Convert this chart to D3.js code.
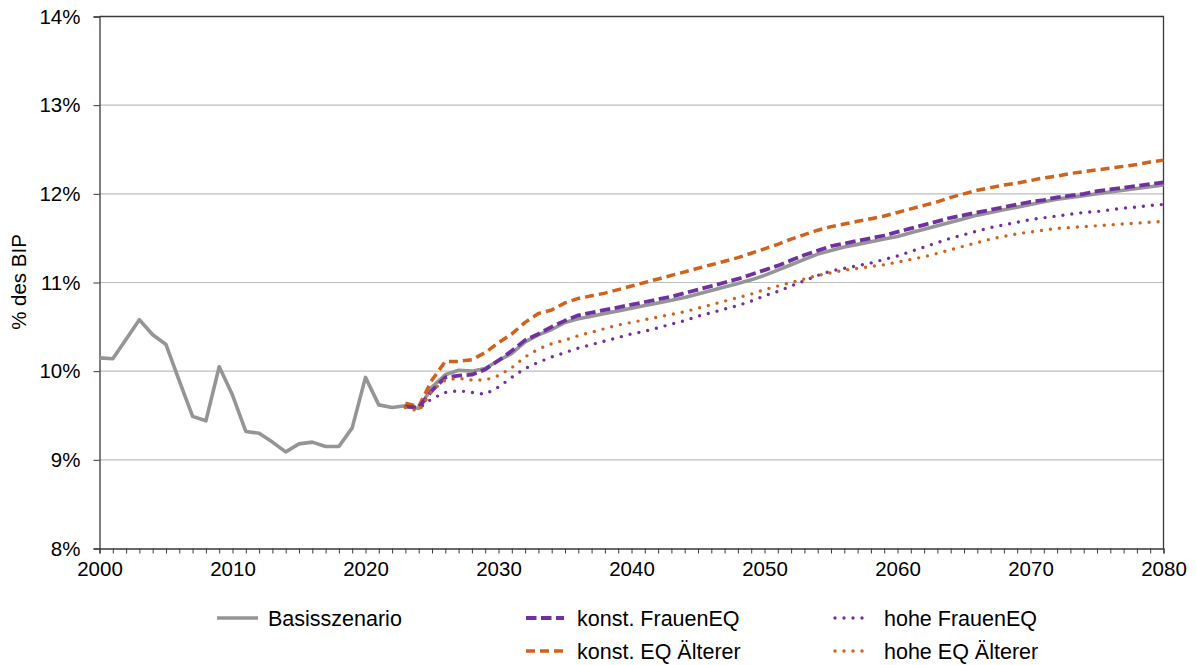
<!DOCTYPE html>
<html><head><meta charset="utf-8">
<script src="https://cdn.jsdelivr.net/npm/d3@7"></script>
<style>
html,body{margin:0;padding:0;background:#fff;}
svg text{font-family:"Liberation Sans",Arial,sans-serif;fill:#000;}
</style></head>
<body><svg id="c" width="1197" height="665"></svg>
<script>
// ---- data ----
const yearsHist = d3.range(2000, 2081);
const basis = [10.15,10.14,10.36,10.58,10.41,10.30,9.89,9.49,9.44,10.05,
  9.73,9.32,9.30,9.20,9.09,9.18,9.20,9.15,9.15,9.36,
  9.93,9.62,9.59,9.61,9.58,9.82,9.96,10.01,10.00,10.03,
  10.12,10.20,10.33,10.41,10.47,10.55,10.59,10.62,10.65,10.68,
  10.71,10.74,10.77,10.80,10.83,10.87,10.91,10.95,10.99,11.03,
  11.08,11.14,11.20,11.26,11.32,11.36,11.40,11.43,11.46,11.49,
  11.52,11.56,11.60,11.64,11.68,11.72,11.76,11.79,11.82,11.85,
  11.88,11.91,11.94,11.96,11.98,12.00,12.02,12.04,12.06,12.08,12.10];
const yearsScen = d3.range(2023, 2081);
const konstFrauen = [9.60,9.59,9.78,9.93,9.95,9.96,10.02,
  10.12,10.23,10.35,10.42,10.50,10.57,10.63,10.66,10.69,10.72,
  10.75,10.78,10.81,10.84,10.88,10.92,10.96,11.00,11.04,11.09,
  11.14,11.19,11.25,11.31,11.36,11.41,11.44,11.47,11.50,11.53,
  11.57,11.61,11.65,11.69,11.73,11.76,11.79,11.82,11.85,11.88,
  11.91,11.93,11.96,11.98,12.00,12.03,12.05,12.07,12.09,12.11,12.13];
const konstAelter = [9.64,9.60,9.90,10.11,10.11,10.13,10.21,
  10.32,10.42,10.55,10.65,10.69,10.77,10.82,10.85,10.88,10.92,
  10.96,11.00,11.04,11.08,11.12,11.16,11.20,11.24,11.28,11.33,
  11.38,11.43,11.49,11.54,11.59,11.63,11.66,11.69,11.72,11.75,
  11.79,11.83,11.87,11.91,11.96,12.00,12.04,12.07,12.10,12.12,
  12.15,12.18,12.20,12.23,12.25,12.27,12.29,12.31,12.33,12.36,12.38];
const hoheFrauen = [9.60,9.58,9.69,9.76,9.78,9.76,9.74,
  9.82,9.93,10.03,10.10,10.16,10.21,10.26,10.30,10.34,10.38,
  10.42,10.45,10.49,10.53,10.57,10.62,10.66,10.70,10.74,10.79,
  10.85,10.90,10.96,11.02,11.08,11.13,11.16,11.19,11.22,11.26,
  11.30,11.35,11.40,11.45,11.50,11.54,11.58,11.62,11.65,11.68,
  11.71,11.73,11.75,11.77,11.79,11.80,11.82,11.84,11.85,11.87,11.88];
const hoheAelter = [9.59,9.55,9.78,9.90,9.92,9.90,9.90,
  9.95,10.04,10.16,10.25,10.31,10.35,10.40,10.44,10.48,10.52,
  10.55,10.58,10.61,10.64,10.67,10.71,10.75,10.79,10.83,10.87,
  10.92,10.96,11.00,11.04,11.08,11.11,11.14,11.16,11.18,11.20,
  11.23,11.26,11.29,11.33,11.37,11.41,11.45,11.49,11.52,11.55,
  11.57,11.59,11.61,11.62,11.63,11.64,11.65,11.66,11.67,11.68,11.69];
const yTicks = [8,9,10,11,12,13,14];
const xTicks = [2000,2010,2020,2030,2040,2050,2060,2070,2080];
const seriesNames = ["Basisszenario","konst. FrauenEQ","hohe FrauenEQ","konst. EQ Älterer","hohe EQ Älterer"];

// ---- styles ----
const styles = {
  "Basisszenario":      {color:"#959595", w:3.6, dash:null, cap:"butt"},
  "konst. FrauenEQ":    {color:"#7030A0", w:3.8, dash:"10.5,4.5", cap:"butt"},
  "konst. EQ Älterer":  {color:"#D0621C", w:3.5, dash:"9,5", cap:"butt"},
  "hohe FrauenEQ":      {color:"#7030A0", w:3.4, dash:"0,9", cap:"round"},
  "hohe EQ Älterer":    {color:"#D0621C", w:3.4, dash:"0,9", cap:"round"}
};
const seriesData = {
  "Basisszenario": yearsHist.map((y,i)=>[y,basis[i]]),
  "konst. FrauenEQ": yearsScen.map((y,i)=>[y,konstFrauen[i]]),
  "konst. EQ Älterer": yearsScen.map((y,i)=>[y,konstAelter[i]]),
  "hohe FrauenEQ": yearsScen.map((y,i)=>[y,hoheFrauen[i]]),
  "hohe EQ Älterer": yearsScen.map((y,i)=>[y,hoheAelter[i]])
};

const svg = d3.select("#c");
const L=99.5, R=1163.5, T=16.5, B=548.5;
const x = d3.scaleLinear().domain([2000,2080]).range([L,R]);
const y = d3.scaleLinear().domain([8,14]).range([B,T]);
const FS_TICK = 20.5, FS_LEG = 21.5;

// gridlines
svg.append("g").selectAll("line").data(yTicks.filter(v=>v>8&&v<14)).join("line")
  .attr("x1",L).attr("x2",R).attr("y1",d=>y(d)).attr("y2",d=>y(d))
  .attr("stroke","#BEBEBE").attr("stroke-width",1.2);

// border (top & right)
svg.append("path").attr("d",`M${L},${T}H${R}V${B}`).attr("fill","none")
  .attr("stroke","#3a3a3a").attr("stroke-width",1.3);

// y axis
const yAxis = svg.append("g").attr("transform",`translate(${L},0)`)
  .call(d3.axisLeft(y).tickValues(yTicks).tickSize(6).tickPadding(13).tickFormat(d=>d+"%"));
yAxis.select(".domain").attr("stroke","#3a3a3a").attr("stroke-width",1.3);
yAxis.selectAll(".tick line").attr("stroke","#3a3a3a");
yAxis.selectAll("text").attr("font-size",FS_TICK).style("font-family","Liberation Sans, Arial, sans-serif");

// x axis
const xAxis = svg.append("g").attr("transform",`translate(0,${B})`)
  .call(d3.axisBottom(x).tickValues(d3.range(2000,2081)).tickSize(5).tickPadding(8)
    .tickFormat(d=>xTicks.includes(d)?String(d):""));
xAxis.select(".domain").attr("stroke","#3a3a3a").attr("stroke-width",1.3);
xAxis.selectAll(".tick line").attr("stroke","#3a3a3a");
xAxis.selectAll("text").attr("font-size",FS_TICK).style("font-family","Liberation Sans, Arial, sans-serif");

// y label
svg.append("text").attr("transform","translate(26,282) rotate(-90)")
  .attr("text-anchor","middle").attr("font-size",FS_TICK).text("% des BIP");

// lines
const line = d3.line().x(d=>x(d[0])).y(d=>y(d[1]));
const drawOrder = ["Basisszenario","konst. EQ Älterer","konst. FrauenEQ","hohe FrauenEQ","hohe EQ Älterer"];
drawOrder.forEach(n=>{
  const s=styles[n];
  svg.append("path").datum(seriesData[n]).attr("d",line).attr("fill","none")
    .attr("stroke",s.color).attr("stroke-width",s.w)
    .attr("stroke-dasharray",s.dash).attr("stroke-linecap",s.cap)
    .attr("stroke-linejoin","round");
});

// legend
const legendPos = {
  "Basisszenario":[217,618], "konst. FrauenEQ":[526,618], "hohe FrauenEQ":[833,618],
  "konst. EQ Älterer":[526,651], "hohe EQ Älterer":[833,651]
};
seriesNames.forEach(n=>{
  const s=styles[n], p=legendPos[n];
  const g=svg.append("g").attr("transform",`translate(${p[0]},${p[1]})`);
  const len = n==="Basisszenario"?41:38;
  g.append("line").attr("x1",s.cap==="round"?2:0).attr("x2",len).attr("y1",0).attr("y2",0)
    .attr("stroke",s.color).attr("stroke-width",s.w).attr("stroke-dasharray",s.dash)
    .attr("stroke-linecap",s.cap);
  g.append("text").attr("x",51).attr("y",0).attr("dy","0.35em").attr("font-size",FS_LEG).text(n);
});
</script></body></html>
